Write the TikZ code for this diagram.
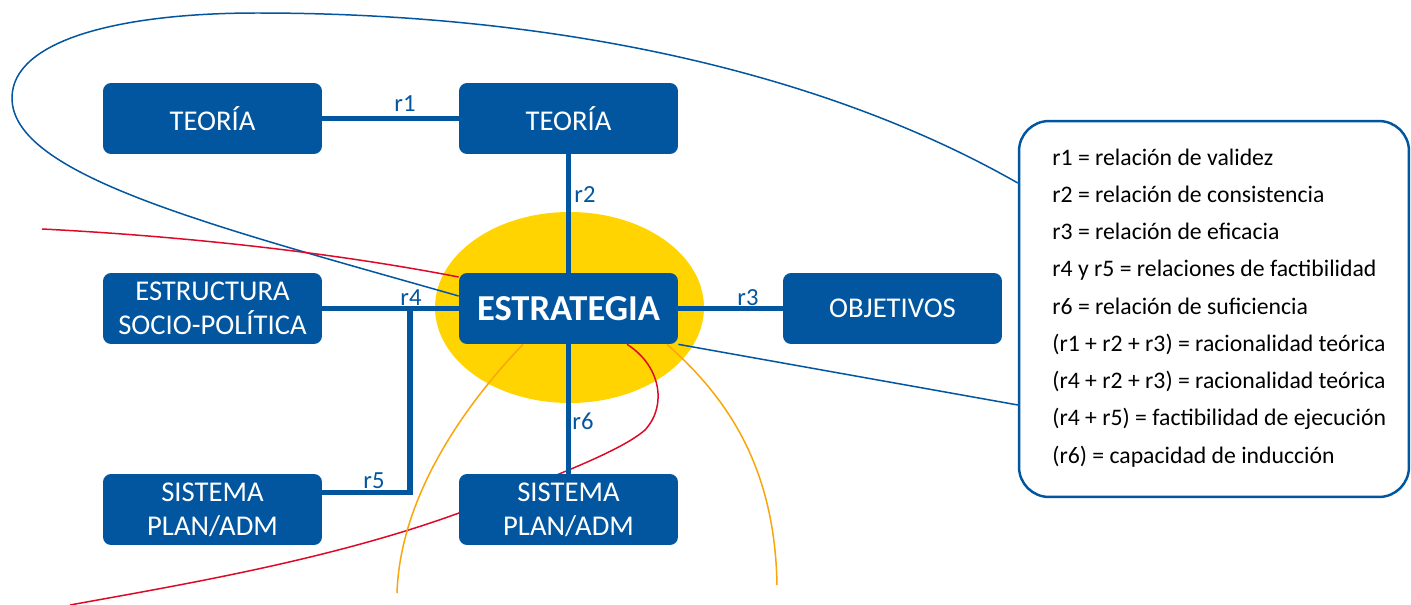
\documentclass[tikz,border=0pt]{standalone}
\usepackage{fontspec}
\setmainfont{Carlito}
\definecolor{bl}{RGB}{2,86,160}
\definecolor{yl}{RGB}{255,212,0}
\definecolor{rd}{RGB}{220,10,40}
\definecolor{og}{RGB}{250,165,10}
\pgfdeclarelayer{background}
\pgfsetlayers{background,main}
\tikzset{
  box/.style={fill=bl, rounded corners=0.16cm, minimum width=4.38cm, minimum height=1.42cm,
    inner sep=0pt, text=white, align=center, font=\fontsize{16.3}{19.3}\selectfont},
  conn/.style={draw=bl, line width=2.85pt},
  lbl/.style={text=bl, font=\fontsize{14}{16}\selectfont, inner sep=0pt, anchor=base},
  thinb/.style={draw=bl, line width=0.85pt},
  redc/.style={draw=rd, line width=0.85pt},
  orc/.style={draw=og, line width=0.85pt},
  legtxt/.style={inner sep=0pt, anchor=base west, font=\fontsize{13.5}{16}\selectfont}
}
\begin{document}
\begin{tikzpicture}[x=0.02cm,y=-0.02cm]
\useasboundingbox (0,0) rectangle (1411,605);

% boxes
\node[box] (t1) at (212.5,118.5) {TEORÍA};
\node[box] (t2) at (568.5,118.5) {TEORÍA};
\node[box] (es) at (212.5,308.5) {ESTRUCTURA\\SOCIO-POLÍTICA};
\node[box, font=\bfseries\fontsize{20.8}{24}\selectfont] (st) at (568.5,308.5) {ESTRATEGIA};
\node[box] (ob) at (892.5,308.5) {OBJETIVOS};
\node[box] (s1) at (212.5,509.5) {SISTEMA\\PLAN/ADM};
\node[box] (s2) at (568.5,509.5) {SISTEMA\\PLAN/ADM};

% legend
\node[draw=bl, line width=1.4pt, rounded corners=0.6cm, fill=white, minimum width=7.8cm,
  minimum height=7.52cm, inner sep=0pt] (lg) at (1214,309) {};
\foreach \t [count=\i] in {{r1 = relación de validez},{r2 = relación de consistencia},
  {r3 = relación de eficacia},{r4 y r5 = relaciones de factibilidad},
  {r6 = relación de suficiencia},{(r1 + r2 + r3) = racionalidad teórica},
  {(r4 + r2 + r3) = racionalidad teórica},{(r4 + r5) = factibilidad de ejecución},
  {(r6) = capacidad de inducción}}
  \node[legtxt] (l\i) at (1052,{165+37.25*(\i-1)}) {\t};

% labels
\node[lbl] (lr1) at (405,111) {r1};
\node[lbl] (lr2) at (585,202) {r2};
\node[lbl] (lr3) at (748,305) {r3};
\node[lbl] (lr4) at (411,305) {r4};
\node[lbl] (lr5) at (374,488) {r5};
\node[lbl] (lr6) at (583,429) {r6};

\coordinate (j) at (410,308.5);
\coordinate (rs) at (42,229);
\coordinate (re) at (70,605);
\coordinate (oL) at (397,593);
\coordinate (oR) at (777,585);

\begin{pgfonlayer}{background}
\fill[white] (0,0) rectangle (1411,605);
\fill[yl] (569.5,307.5) ellipse [x radius=2.69cm, y radius=1.91cm];
% curves
\draw[thinb] ([yshift=0.25cm]st.west) .. controls (209,225) and (12,175) .. (12,98)
  .. controls (12,40) and (120,13) .. (257,13)
  .. controls (550,13) and (820,70) .. ([yshift=2.52cm]lg.west);
\draw[thinb] (st.south east) -- ([yshift=-1.92cm]lg.west);
\draw[redc] (rs) .. controls (180,236) and (330,252) .. ([yshift=0.63cm]st.west);
\draw[redc] ([xshift=1.17cm]st.south) .. controls (660,365) and (668,405) .. (645,430)
  .. controls (620,452) and (545,480) .. (459,513)
  .. controls (330,560) and (180,585) .. (re);
\draw[orc] ([xshift=-0.91cm]st.south) .. controls (460,410) and (400,500) .. (oL);
\draw[orc] ([xshift=1.97cm]st.south) .. controls (730,400) and (775,470) .. (oR);
% connectors
\draw[conn] (t1) -- (t2);
\draw[conn] (t2) -- (st);
\draw[conn] (st) -- (ob);
\draw[conn] (es) -- (st);
\draw[conn] (st) -- (s2);
\draw[conn] (j) |- ([yshift=0.35cm]s1.east);
\end{pgfonlayer}
\end{tikzpicture}
\end{document}
